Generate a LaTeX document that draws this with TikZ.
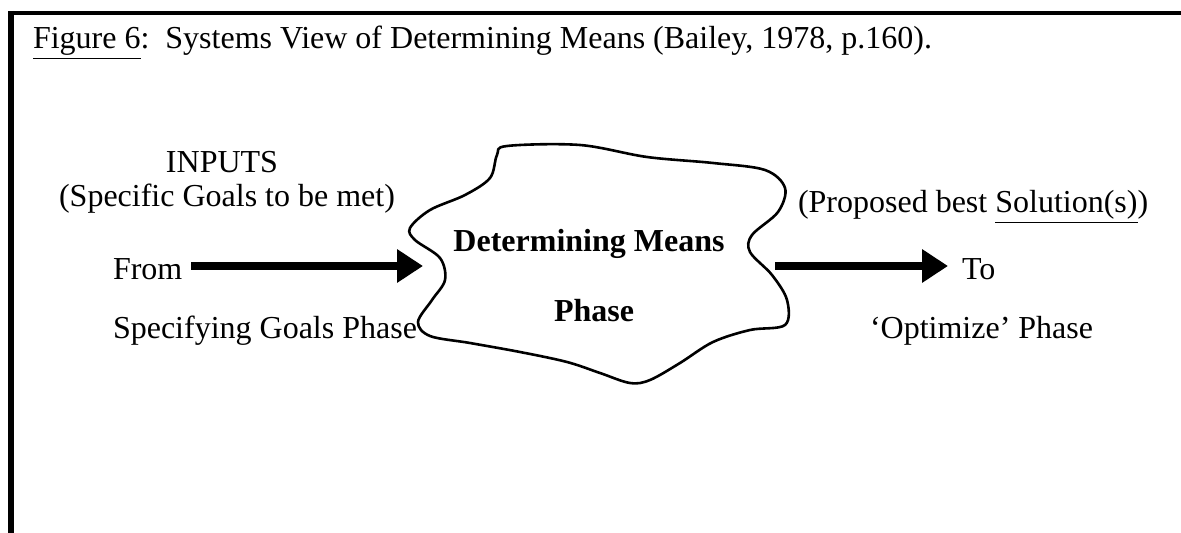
\documentclass[tikz,border=0pt]{standalone}
\usepackage{fontspec}
\setmainfont{Liberation Serif}
\usetikzlibrary{arrows.meta,calc}
\begin{document}
\begin{tikzpicture}[x=0.5pt,y=-0.5pt,
  txt/.style={inner sep=0pt,outer sep=0pt,font=\fontsize{16}{19}\selectfont},
  btxt/.style={txt,font=\fontsize{16}{19}\selectfont\bfseries},
  bigarrow/.style={line width=4pt,-{Triangle[length=13pt,width=16pt]}},
  frameline/.style={line width=2.2pt},
  cloudline/.style={line width=1.3pt,line join=round}]
\useasboundingbox (0,0) rectangle (1181,533);
% frame
\draw[frameline] (9,13) -- (1181,13);
\draw[line width=2.6pt] (11,11) -- (11,533);
% title
\node[txt,anchor=base west] (title) at (33,49) {\underline{Figure 6}:\ \ Systems View of Determining Means (Bailey, 1978, p.160).};
% left texts
\node[txt,anchor=base] (inputs) at (222,173) {INPUTS};
\node[txt,anchor=base] (goals) at (227,207) {(Specific Goals to be met)};
\node[txt,anchor=base west] (from) at (113,280) {From};
\node[txt,anchor=base west] (spec) at (113,339) {Specifying Goals Phase};
% cloud
\draw[cloudline] plot[smooth cycle,tension=0.55] coordinates {
 (507,146) (580,145) (647,157) (713,163) (765,170) (785,188) (778,212)
 (752,235) (750,252) (772,275) (787,300) (785,325) (750,330) (713,342)
 (680,363) (650,380) (630,383) (600,373) (567,362) (520,352) (470,343)
 (430,336) (418,322) (432,300) (445,280) (440,258) (415,240) (410,228)
 (430,210) (465,195) (490,178) (497,155)};
\node[btxt,anchor=base] (dm) at (589,252) {Determining Means};
\node[btxt,anchor=base] (phase) at (594,322) {Phase};
% right texts
\node[txt,anchor=base west] (prop) at (798,213) {(Proposed best \underline{Solution(s)})};
\node[txt,anchor=base west] (to) at (962,280) {To};
\node[txt,anchor=base west] (opt) at (870,339) {`Optimize' Phase};
% arrows
\coordinate (la) at (423,266);
\coordinate (ra) at (775,266);
\draw[bigarrow] ($(from.east |- la)+(9,0)$) -- (la);
\draw[bigarrow] (ra) -- ($(to.west |- ra)+(-14,0)$);
\end{tikzpicture}
\end{document}
